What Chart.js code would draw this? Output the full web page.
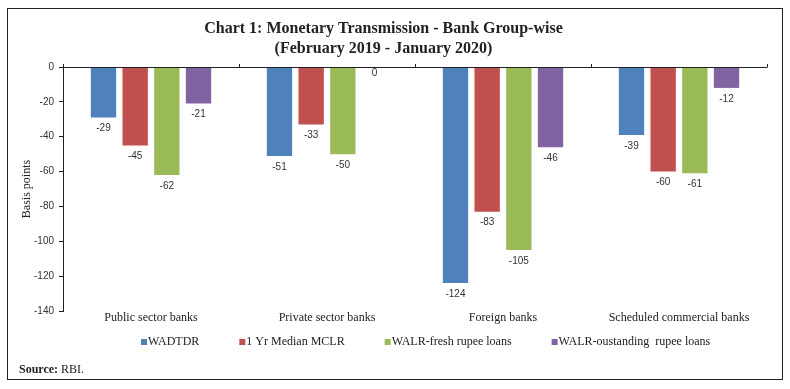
<!DOCTYPE html>
<html>
<head>
<meta charset="utf-8">
<script src="https://cdn.jsdelivr.net/npm/chart.js@4/dist/chart.umd.min.js"></script>
<style>
  body{margin:0;background:#fff;}
  #wrap{position:absolute;left:0;top:0;width:790px;height:362px;}
  #box{position:absolute;left:7px;top:8px;width:774px;height:370px;border:1.5px solid #222;pointer-events:none;}
  #src{position:absolute;left:19px;top:362px;font:12px "Liberation Serif",serif;color:#222;}
</style>
</head>
<body>
<div id="wrap"><canvas id="chart"></canvas></div>
<div id="box"></div>
<div id="src"><b>Source:</b> RBI.</div>
<script>
// Transmission par groupe de banques (points de base)
const categories = ["Public sector banks","Private sector banks","Foreign banks","Scheduled commercial banks"];
const wadtdr   = [-29, -51, -124, -39];
const mclr     = [-45, -33, -83, -60];
const walrNew  = [-62, -50, -105, -61];
const walrOut  = [-21, 0, -46, -12];
const yTicks   = [0, -20, -40, -60, -80, -100, -120, -140];

const SANS = '"Liberation Sans", Arial, sans-serif';
const SERIF = '"Liberation Serif", "Times New Roman", serif';

// étiquettes sous chaque barre + ligne zéro + petites graduations + légende
const barLabels = {
  id:"barLabels",
  afterDatasetsDraw(chart){
    const {ctx, chartArea:a, scales:{x,y}} = chart;
    ctx.save();
    const y0 = y.getPixelForValue(0);
    ctx.strokeStyle="#222"; ctx.lineWidth=1;
    ctx.beginPath(); ctx.moveTo(a.left, y0+0.5); ctx.lineTo(a.right, y0+0.5);
    for (let i=0;i<=categories.length;i++){
      const px = Math.round(a.left + (a.right-a.left)*i/categories.length)+0.5;
      ctx.moveTo(px, y0-3); ctx.lineTo(px, y0+0.5);
    }
    ctx.stroke();
    ctx.font = "10px "+SANS; ctx.fillStyle="#333";
    ctx.textAlign="center"; ctx.textBaseline="middle";
    chart.data.datasets.forEach((ds,di)=>{
      chart.getDatasetMeta(di).data.forEach((bar,i)=>{
        const v = ds.data[i];
        ctx.fillText(String(v), bar.x, bar.y + (v===0 ? 6 : 11));
      });
    });
    // légende maison (écart fixe de 40px entre les entrées)
    ctx.font = "12px "+SERIF; ctx.textAlign="left";
    let lx = 141; const ly = 342;
    chart.data.datasets.forEach(ds=>{
      ctx.fillStyle = ds.backgroundColor;
      ctx.fillRect(lx, ly-3, 6, 6);
      ctx.fillStyle = "#222";
      ctx.fillText(ds.label, lx+7, ly);
      lx += 7 + ctx.measureText(ds.label).width + 40;
    });
    ctx.restore();
  }
};

new Chart(document.getElementById("chart"), {
  type:"bar",
  data:{
    labels: categories,
    datasets:[
      {label:"WADTDR", data:wadtdr, backgroundColor:"#4F81BD"},
      {label:"1 Yr Median MCLR", data:mclr, backgroundColor:"#C0504D"},
      {label:"WALR-fresh rupee loans", data:walrNew, backgroundColor:"#9BBB59"},
      {label:"WALR-oustanding  rupee loans", data:walrOut, backgroundColor:"#8064A2"},
    ],
  },
  options:{
    responsive:true, maintainAspectRatio:false, animation:false,
    categoryPercentage:0.72, barPercentage:0.8,
    layout:{padding:{left:0, right:23, top:0, bottom:0}},
    scales:{
      x:{
        grid:{display:false, drawTicks:false}, border:{display:false},
        ticks:{color:"#222", font:{family:SERIF, size:12}, padding:0, maxRotation:0},
        afterFit:s=>{ s.height = 51; },
      },
      y:{
        min:-140, max:0,
        afterBuildTicks:s=>{ s.ticks = yTicks.map(v=>({value:v})); },
        grid:{drawOnChartArea:false, drawTicks:true, tickLength:4, color:"#222"},
        border:{display:true, color:"#222", width:1},
        ticks:{color:"#333", font:{family:SANS, size:10}, padding:5},
        title:{display:true, text:"Basis points", color:"#222", font:{family:SERIF, size:12}, padding:{top:20,bottom:0}},
        afterFit:s=>{ s.width = 63; },
      },
    },
    plugins:{
      title:{display:true, text:["Chart 1: Monetary Transmission - Bank Group-wise","(February 2019 - January 2020)"],
        color:"#222", font:{family:SERIF, size:16, weight:"bold", lineHeight:1.25}, padding:{top:19, bottom:8}},
      legend:{display:false},
      tooltip:{enabled:false},
    },
  },
  plugins:[barLabels],
});
</script>
</body>
</html>
